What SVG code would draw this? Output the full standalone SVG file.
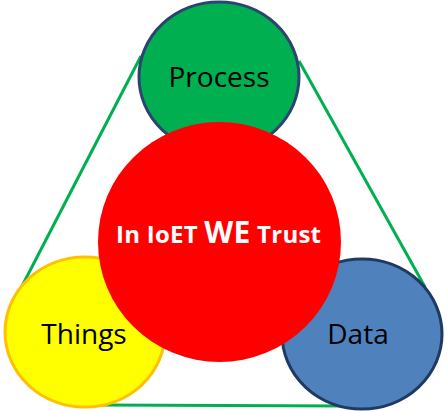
<svg xmlns="http://www.w3.org/2000/svg" width="447" height="411" viewBox="0 0 447 411">
  <style>
    .edge { stroke: #00B050; stroke-width: 3; fill: none; }
    .label { font-family: "Open Sans", "Noto Sans", sans-serif; font-size: 28px; fill: #000; text-anchor: middle; }
    .core { font-family: "Open Sans", "Noto Sans", sans-serif; font-weight: bold; fill: #fff; text-anchor: middle; }
  </style>
  <rect width="447" height="411" fill="#fff"/>
  <g id="connectors">
    <line class="edge" x1="141" y1="56" x2="20" y2="290"/>
    <line class="edge" x1="299" y1="61" x2="425" y2="287"/>
    <line class="edge" x1="100" y1="405" x2="345" y2="406"/>
  </g>
  <g id="process">
    <ellipse cx="219" cy="77" rx="80" ry="75" fill="#00B050" stroke="#2B4570" stroke-width="3"/>
    <text class="label" x="219" y="87">Process</text>
  </g>
  <g id="things">
    <ellipse cx="85" cy="332" rx="80" ry="75" fill="#FFFF00" stroke="#FFC000" stroke-width="3"/>
    <text class="label" x="84" y="344">Things</text>
  </g>
  <g id="data">
    <ellipse cx="362" cy="334" rx="80" ry="75" fill="#4F81BD" stroke="#1F3A60" stroke-width="3"/>
    <text class="label" x="358" y="344">Data</text>
  </g>
  <g id="trust">
    <ellipse cx="219.5" cy="242" rx="121.5" ry="120" fill="#FF0000"/>
    <text class="core" x="218.5" y="243" textLength="205" lengthAdjust="spacing"><tspan font-size="24">In IoET </tspan><tspan font-size="30">WE</tspan><tspan font-size="24"> Trust</tspan></text>
  </g>
</svg>
